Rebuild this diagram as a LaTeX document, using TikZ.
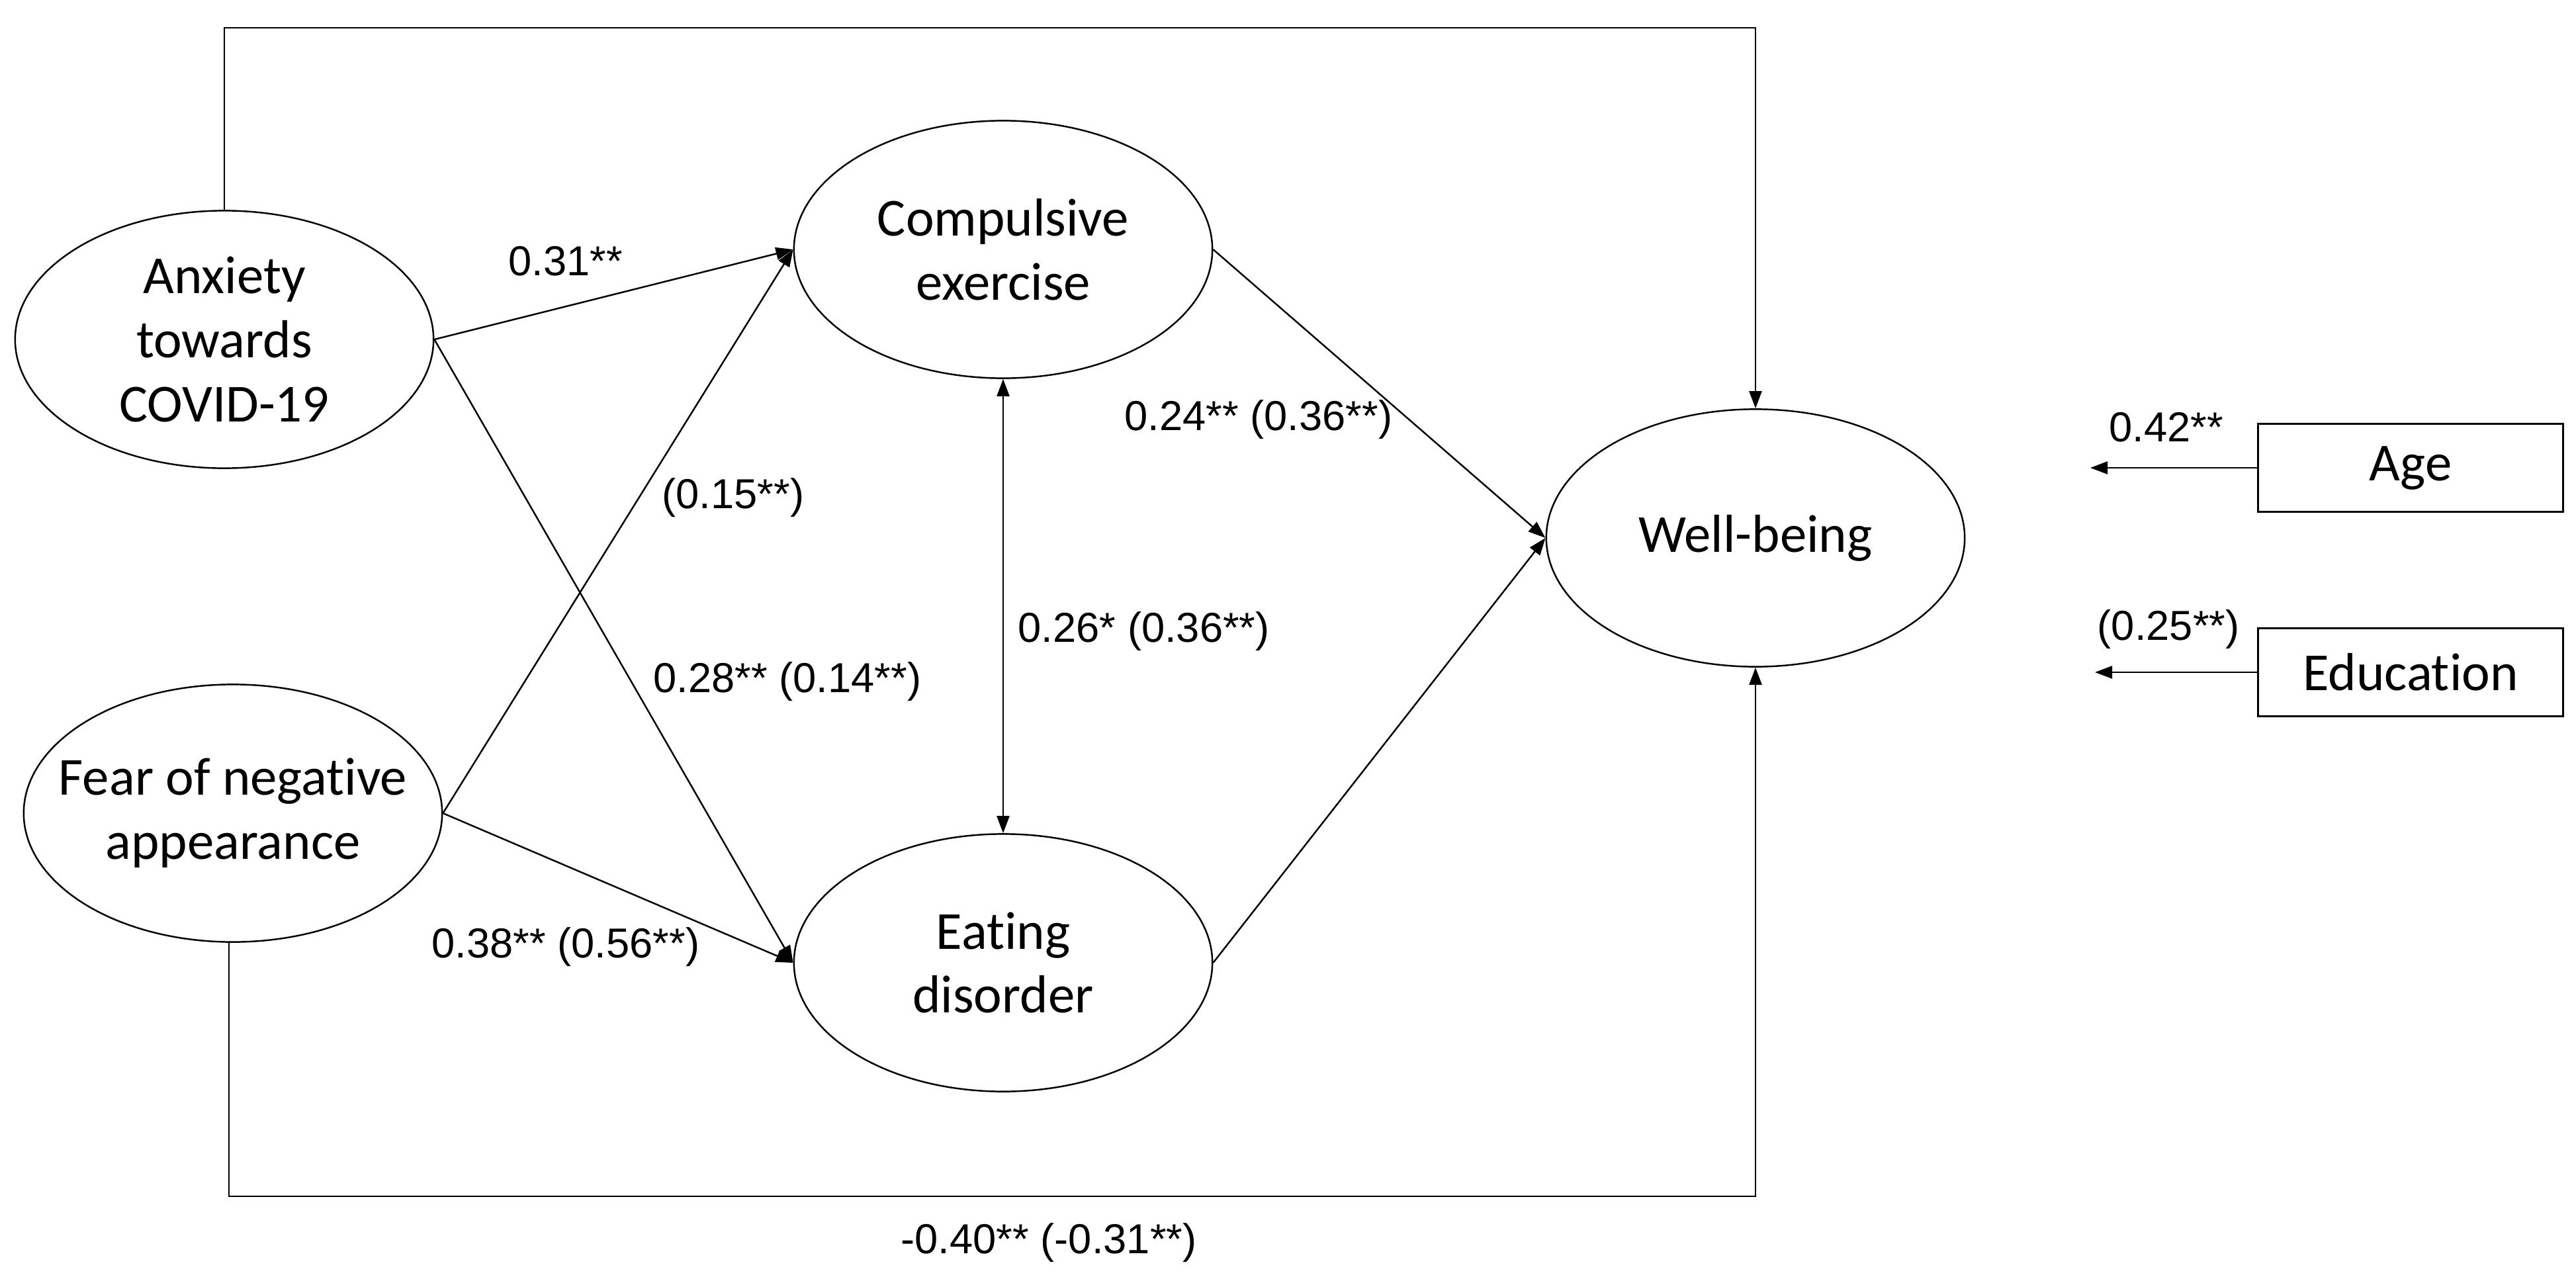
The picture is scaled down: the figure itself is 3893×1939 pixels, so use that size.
\documentclass[tikz,border=0pt]{standalone}
\usepackage{fontspec}
\setmainfont{Carlito}[Ligatures=NoCommon]
\newfontfamily\labfont{Liberation Sans}
\usetikzlibrary{arrows.meta,shapes.geometric}
\begin{document}
\begin{tikzpicture}[x=0.01cm,y=-0.01cm,
  var/.style={draw, ellipse, minimum width=6.32cm, minimum height=3.89cm, inner xsep=-2cm, inner ysep=-1.2cm, align=center, font=\fontsize{23}{27.5}\selectfont, line width=0.7pt},
  obs/.style={draw, rectangle, minimum width=4.6cm, minimum height=1.33cm, inner sep=0pt, font=\fontsize{23}{27.5}\selectfont, line width=0.9pt},
  pth/.style={line width=0.7pt, -{Triangle[length=0.26cm,width=0.19cm]}},
  bipth/.style={line width=0.7pt, {Triangle[length=0.26cm,width=0.19cm]}-{Triangle[length=0.26cm,width=0.19cm]}},
  coef/.style={anchor=base west, inner sep=0pt, font=\labfont\fontsize{18}{21}\selectfont}]
\useasboundingbox (0,0) rectangle (3893,1939);

% variables
\node[var] (anx)  at (339,513)   {Anxiety\\towards\\COVID-19};
\node[var] (fear) at (352,1229)  {Fear of negative\\appearance};
\node[var] (comp) at (1516,377)  {Compulsive\\exercise};
\node[var] (eat)  at (1516,1455) {Eating\\disorder};
\node[var] (wb)   at (2653,813)  {Well-being};
\node[obs] (age)  at (3643,707)  {Age};
\node[obs] (edu)  at (3643,1016) {Education};

% helper coordinates
\coordinate (topy) at (0,42);
\coordinate (boty) at (0,1808);
\coordinate (ageend) at (3159,710);
\coordinate (eduend) at (3166,1014);

% paths
\draw[pth] (anx.east) -- (comp.west);
\draw[pth] (fear.east) -- (comp.west);
\draw[pth] (anx.east) -- (eat.west);
\draw[pth] (fear.east) -- (eat.west);
\draw[pth] (comp.east) -- (wb.west);
\draw[pth] (eat.east) -- (wb.west);
\draw[bipth] (comp.south) -- (eat.north);
\draw[pth] (anx.north) -- (anx.north |- topy) -| (wb.north);
\draw[pth] ([xshift=-0.06cm]fear.south) -- ([xshift=-0.06cm]fear.south |- boty) -| (wb.south);
\draw[pth] (age.west) -- (age.west -| ageend);
\draw[pth] (edu.west) -- (edu.west -| eduend);

% coefficients
\node[coef] (c1) at (768,416)   {0.31**};
\node[coef] (c2) at (1000,768)  {(0.15**)};
\node[coef] (c3) at (987,1046)  {0.28** (0.14**)};
\node[coef] (c4) at (652,1447)  {0.38** (0.56**)};
\node[coef] (c5) at (1699,650)  {0.24** (0.36**)};
\node[coef] (c6) at (1538,970)  {0.26* (0.36**)};
\node[coef] (c7) at (1361,1894) {-0.40** (-0.31**)};
\node[coef] (c8) at (3187,667)  {0.42**};
\node[coef] (c9) at (3169,967)  {(0.25**)};
\end{tikzpicture}
\end{document}
